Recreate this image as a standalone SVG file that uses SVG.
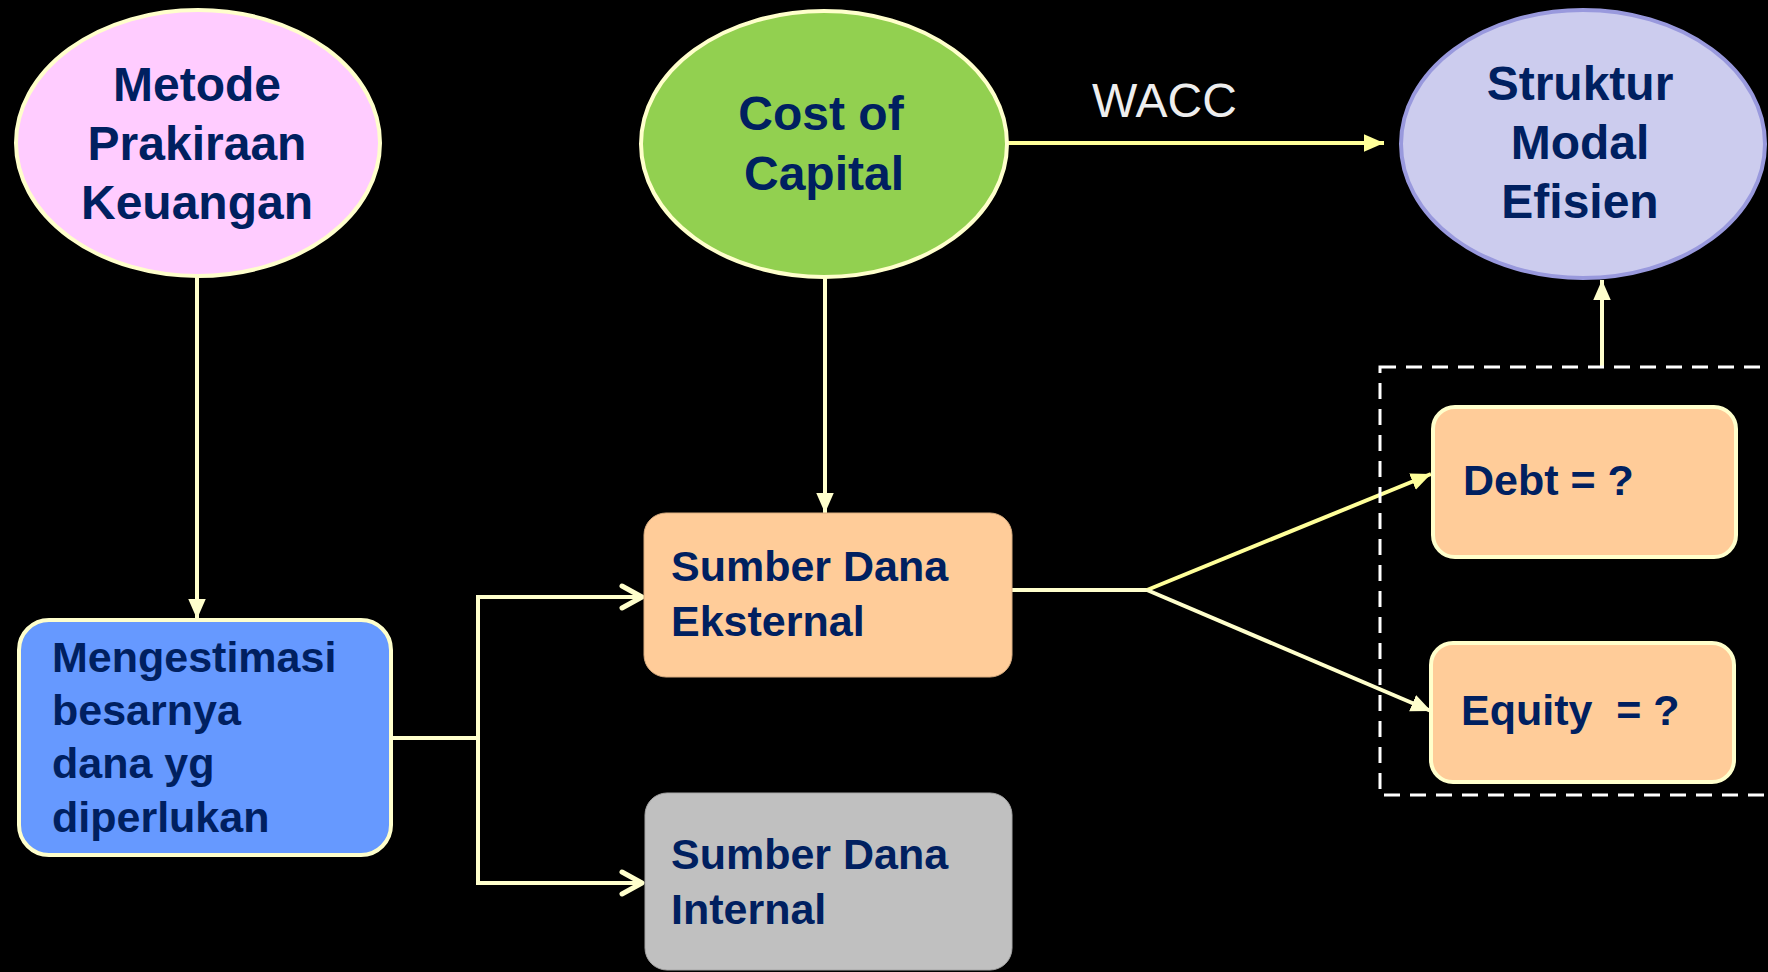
<svg xmlns="http://www.w3.org/2000/svg" width="1768" height="972" viewBox="0 0 1768 972">
<style>
.lbl{font-family:"Liberation Sans",Arial,sans-serif;font-weight:bold;fill:#002060}
.big{font-size:48px}
.mid{font-size:43px}
.conn{fill:none;stroke:#FFFFCC;stroke-width:4}
.conn2{fill:none;stroke:#FFFF99;stroke-width:4}
</style>
<defs>
<marker id="tri" markerUnits="userSpaceOnUse" markerWidth="20" markerHeight="20" refX="16" refY="8" orient="auto" viewBox="0 0 16 16">
<path d="M0,1 L16,8 L0,15 Z" fill="#FFFFCC"/>
</marker>
<marker id="tri2" markerUnits="userSpaceOnUse" markerWidth="20" markerHeight="20" refX="16" refY="8" orient="auto" viewBox="0 0 16 16">
<path d="M0,1 L16,8 L0,15 Z" fill="#FFFF99"/>
</marker>
<marker id="chev" markerUnits="userSpaceOnUse" markerWidth="30" markerHeight="30" refX="24" refY="15" orient="auto" viewBox="0 0 30 30">
<path d="M4,4 L24,15 L4,26" fill="none" stroke="#FFFFCC" stroke-width="5" stroke-linecap="round" stroke-linejoin="round"/>
</marker>
</defs>
<rect width="1768" height="972" fill="#000000"/>

<g id="connectors">
<line class="conn" x1="197" y1="277" x2="197" y2="619" marker-end="url(#tri)"/>
<line class="conn" x1="825" y1="277" x2="825" y2="513" marker-end="url(#tri)"/>
<line class="conn2" x1="1008" y1="143" x2="1384" y2="143" marker-end="url(#tri2)"/>
<line class="conn" x1="1602" y1="367" x2="1602" y2="280" marker-end="url(#tri)"/>
<polyline class="conn" points="391,738 478,738"/>
<polyline class="conn" points="478,597 478,883"/>
<line class="conn" x1="476" y1="597" x2="642" y2="597" marker-end="url(#chev)"/>
<line class="conn" x1="476" y1="883" x2="642" y2="883" marker-end="url(#chev)"/>
<polyline class="conn" points="1012,590 1147,590"/>
<line class="conn2" x1="1147" y1="590" x2="1431" y2="474" marker-end="url(#tri2)"/>
<line class="conn" x1="1147" y1="590" x2="1431" y2="711" marker-end="url(#tri)"/>
</g>

<g id="group-box">
<rect x="1380" y="367" width="420" height="428" fill="none" stroke="#FFFFFF" stroke-width="3" stroke-dasharray="16 10"/>
</g>

<g id="wacc-label">
<text x="1092" y="117" font-family="'Liberation Sans',Arial,sans-serif" font-size="48" fill="#EEEEEE">WACC</text>
</g>

<g id="metode">
<ellipse cx="198" cy="143" rx="182" ry="133" fill="#FFCCFF" stroke="#FFFFCC" stroke-width="4"/>
<text class="lbl big" text-anchor="middle" x="197" y="101">Metode</text>
<text class="lbl big" text-anchor="middle" x="197" y="160">Prakiraan</text>
<text class="lbl big" text-anchor="middle" x="197" y="219">Keuangan</text>
</g>

<g id="cost-of-capital">
<ellipse cx="824" cy="144" rx="183" ry="133" fill="#92D050" stroke="#FFFFCC" stroke-width="4"/>
<text class="lbl big" text-anchor="middle" x="821" y="130">Cost of</text>
<text class="lbl big" text-anchor="middle" x="824" y="190">Capital</text>
</g>

<g id="struktur">
<ellipse cx="1583" cy="144" rx="182" ry="134" fill="#CCCCEE" stroke="#9999DD" stroke-width="4"/>
<text class="lbl big" text-anchor="middle" x="1580" y="100">Struktur</text>
<text class="lbl big" text-anchor="middle" x="1580" y="159">Modal</text>
<text class="lbl big" text-anchor="middle" x="1580" y="218">Efisien</text>
</g>

<g id="mengestimasi">
<rect x="19" y="620" width="372" height="235" rx="30" fill="#6699FF" stroke="#FFFFCC" stroke-width="4"/>
<text class="lbl mid" x="52" y="672">Mengestimasi</text>
<text class="lbl mid" x="52" y="725">besarnya</text>
<text class="lbl mid" x="52" y="778">dana yg</text>
<text class="lbl mid" x="52" y="832">diperlukan</text>
</g>

<g id="eksternal">
<rect x="644" y="513" width="368" height="164" rx="22" fill="#FFCC99" stroke="#D9AD80" stroke-width="1"/>
<text class="lbl mid" x="671" y="581">Sumber Dana</text>
<text class="lbl mid" x="671" y="636">Eksternal</text>
</g>

<g id="internal">
<rect x="645" y="793" width="367" height="177" rx="22" fill="#C0C0C0" stroke="#A6A6A6" stroke-width="1"/>
<text class="lbl mid" x="671" y="869">Sumber Dana</text>
<text class="lbl mid" x="671" y="924">Internal</text>
</g>

<g id="debt">
<rect x="1433" y="407" width="303" height="150" rx="22" fill="#FFCC99" stroke="#FFFFCC" stroke-width="4"/>
<text class="lbl mid" x="1463" y="495">Debt = ?</text>
</g>

<g id="equity">
<rect x="1431" y="643" width="303" height="139" rx="22" fill="#FFCC99" stroke="#FFFFCC" stroke-width="4"/>
<text class="lbl mid" x="1461" y="725" xml:space="preserve">Equity  = ?</text>
</g>
</svg>
